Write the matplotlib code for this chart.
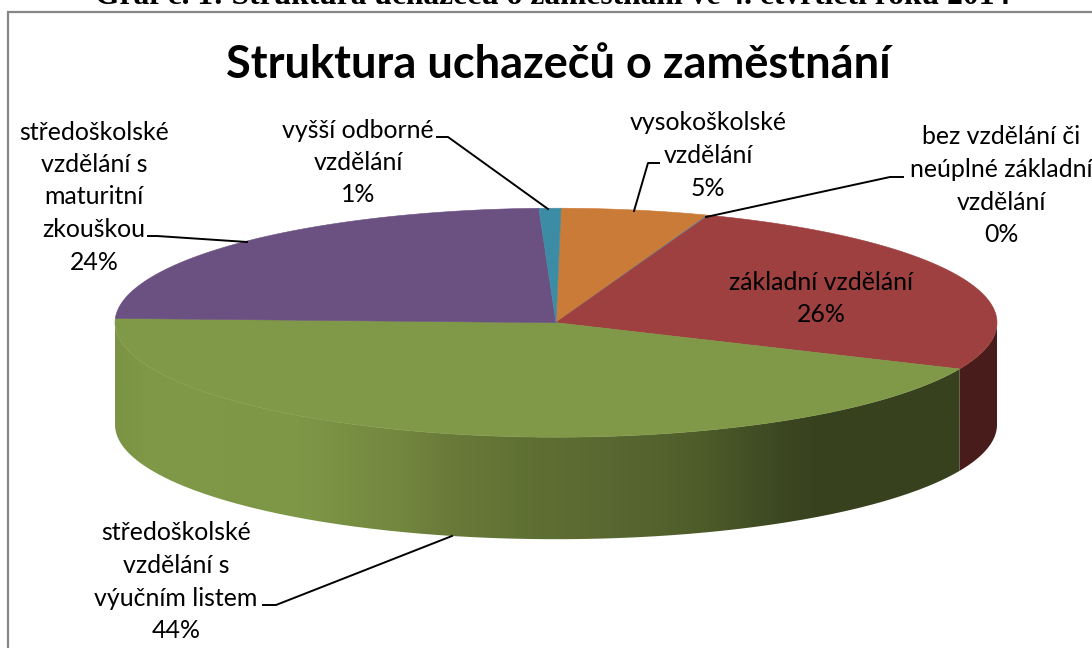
import matplotlib
matplotlib.use("Agg")
import matplotlib.pyplot as plt
import numpy as np
from matplotlib.patches import PathPatch, Polygon
from matplotlib.path import Path

# chart data, clockwise from the top of the pie
categories = ["vysokoškolské\nvzdělání", "bez vzdělání či\nneúplné základní\nvzdělání",
              "základní vzdělání", "středoškolské\nvzdělání s\nvýučním listem",
              "středoškolské\nvzdělání s\nmaturitní\nzkouškou", "vyšší odborné\nvzdělání"]
values = [5.4, 0.05, 26.0, 44.0, 23.8, 0.8]

top_colors = ["#cb7b38", "#5f7f9a", "#9d403f", "#809948", "#6b5082", "#3c8ca5"]
side_colors = ["#5c3616", "#2c3a45", "#481c1a", None, "#30243b", "#1b3f4a"]

# label centre (x, first line y) in pixels
label_pos = [(708, 123), (1001, 137), (821, 282), (176, 533), (94, 132), (358, 130)]
# leader lines in pixels, label end first
leaders = [[(659, 163), (648, 163), (634, 211)],
           [(903, 177), (890, 177), (706, 217)],
           None,
           [(263, 605), (276, 605), (452, 536)],
           [(148, 236), (157, 236), (247, 242)],
           [(437, 137), (448, 137), (548, 209)]]

# shading of the green side, by x pixel
grad_x = [116, 150, 300, 400, 450, 530, 650, 700, 780, 820, 1000]
grad_r = [122, 128, 126, 115, 105, 95, 85, 78, 60, 56, 56]
grad_g = [147, 153, 151, 135, 122, 112, 100, 92, 72, 65, 65]
grad_b = [68, 72, 71, 62, 57, 52, 47, 42, 34, 30, 30]

title = "Struktura uchazečů o zaměstnání"
caption = "Graf č. 1: Struktura uchazečů o zaměstnání ve 4. čtvrtletí roku 2014"

# pie geometry in pixels
cx, cy = 556, 322.7
rx, ry = 441, 114.5
depth = 102
start_angle = 0.65
LINE_H = 32.5

plt.rcParams["font.family"] = ["Lato", "DejaVu Sans"]

fig = plt.figure(figsize=(10.92, 6.48), dpi=100)
ax = fig.add_axes([0, 0, 1, 1])
ax.set_xlim(0, 1092)
ax.set_ylim(648, 0)
ax.axis("off")


def rim(a0, a1, dy=0, n=200):
    t = np.radians(np.linspace(a0, a1, n))
    return np.column_stack((cx + rx * np.sin(t), cy - ry * np.cos(t) + dy))


# outer frame, only left and top are inside the picture
ax.plot([8.4, 8.4, 1092], [648, 11.6, 11.6], color="#868686", lw=1.6, solid_joinstyle="miter")

ax.text(553, 3.5, caption, family="Liberation Serif", weight="bold", fontsize=22.7,
        ha="center", va="baseline", color="black")
ax.text(558, 65, title, weight="bold", fontsize=32.5, ha="center", va="center", color="black")

shares = np.array(values) / sum(values) * 360
edges = start_angle + np.concatenate(([0], np.cumsum(shares)))

# sides first, only the front half (90..270 degrees) can be seen
for i in range(len(values)):
    a0, a1 = max(edges[i], 90), min(edges[i + 1], 270)
    if a0 >= a1:
        continue
    pts = np.vstack((rim(a0, a1), rim(a1, a0, depth)))
    if side_colors[i] is not None:
        ax.add_patch(Polygon(pts, closed=True, fc=side_colors[i], ec="none", zorder=2))
    else:
        xs = np.arange(100, 1001)
        row = np.column_stack((np.interp(xs, grad_x, grad_r),
                               np.interp(xs, grad_x, grad_g),
                               np.interp(xs, grad_x, grad_b))) / 255
        im = ax.imshow(row[np.newaxis, :, :], extent=(100, 1000, 600, 300),
                       aspect="auto", zorder=2, interpolation="bilinear")
        clip = PathPatch(Path(np.vstack((pts, pts[:1]))), fc="none", ec="none",
                         transform=ax.transData)
        ax.add_patch(clip)
        im.set_clip_path(clip)
ax.set_xlim(0, 1092)
ax.set_ylim(648, 0)

# top face
for i in range(len(values)):
    pts = np.vstack(([(cx, cy)], rim(edges[i], edges[i + 1])))
    ax.add_patch(Polygon(pts, closed=True, fc=top_colors[i], ec=top_colors[i], lw=0.4, zorder=3))

for i, name in enumerate(categories):
    lines = name.split("\n") + ["%d%%" % round(values[i])]
    x, y = label_pos[i]
    for j, line in enumerate(lines):
        ax.text(x, y + j * LINE_H, line, fontsize=17.9, ha="center", va="center",
                color="black", zorder=5)
    if leaders[i] is not None:
        lx, ly = zip(*leaders[i])
        ax.plot(lx, ly, color="black", lw=1.4, zorder=4)

fig.savefig("out.png", dpi=100)
